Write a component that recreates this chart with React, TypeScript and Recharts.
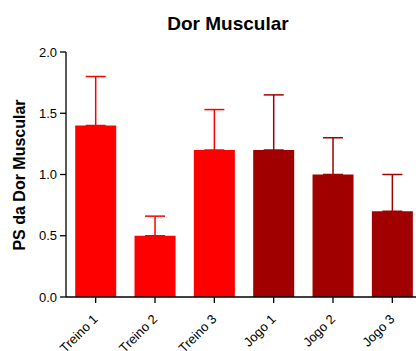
import React from 'react';
import { BarChart, Bar, XAxis, YAxis, ErrorBar, Cell } from 'recharts';

const categories = ['Treino 1', 'Treino 2', 'Treino 3', 'Jogo 1', 'Jogo 2', 'Jogo 3'];
const groups = ['Treino', 'Treino', 'Treino', 'Jogo', 'Jogo', 'Jogo'];
const means = [1.4, 0.5, 1.2, 1.2, 1.0, 0.7];
const upperErrors = [0.4, 0.16, 0.33, 0.45, 0.3, 0.3];
const yTicks = [0, 0.5, 1.0, 1.5, 2.0];

const TREINO_COLOR = '#FF0000';
const JOGO_COLOR = '#A00000';
const FONT = "Arial, 'Liberation Sans', sans-serif";

const data = categories.map((name, i) => ({
  name,
  value: means[i],
  errTreino: groups[i] === 'Treino' ? [0, upperErrors[i]] : null,
  errJogo: groups[i] === 'Jogo' ? [0, upperErrors[i]] : null,
}));

const XTick = (props: any) => {
  const { x, y, payload } = props;
  return (
    <g transform={`translate(${x + 3},${y + 17})`}>
      <text
        x={0}
        y={0}
        textAnchor="end"
        transform="rotate(-45)"
        fontFamily={FONT}
        fontSize={13}
        fill="#000"
      >
        {payload.value}
      </text>
    </g>
  );
};

export default function App() {
  return (
    <div
      style={{
        position: 'absolute',
        left: 0,
        top: 0,
        width: 416,
        height: 351,
        overflow: 'hidden',
        background: '#fff',
      }}
    >
      <div
        style={{
          position: 'absolute',
          left: 0,
          width: 456,
          top: 12,
          textAlign: 'center',
          fontFamily: FONT,
          fontWeight: 'bold',
          fontSize: 19,
          lineHeight: '24px',
          color: '#000',
        }}
      >
        Dor Muscular
      </div>
      <div
        style={{
          position: 'absolute',
          left: 20,
          top: 175,
          transform: 'translate(-50%, -50%) rotate(-90deg)',
          whiteSpace: 'nowrap',
          fontFamily: FONT,
          fontWeight: 'bold',
          fontSize: 16,
          lineHeight: '18px',
          color: '#000',
        }}
      >
        PS da Dor Muscular
      </div>
      <div style={{ position: 'absolute', left: 0, top: 0 }}>
        <BarChart
          width={440}
          height={351}
          data={data}
          margin={{ top: 52, right: 18, bottom: 0, left: 0 }}
          barCategoryGap="15.5%"
        >
          <XAxis
            dataKey="name"
            tick={<XTick />}
            tickSize={6}
            tickMargin={0}
            height={54}
            interval={0}
            axisLine={{ stroke: '#000', strokeWidth: 1.3 }}
            tickLine={{ stroke: '#000', strokeWidth: 1.3 }}
          />
          <YAxis
            domain={[0, 2]}
            ticks={yTicks}
            tickFormatter={(v: number) => v.toFixed(1)}
            width={66}
            tickSize={6}
            tickMargin={3}
            tick={{ fontFamily: FONT, fontSize: 13, fill: '#000' }}
            axisLine={{ stroke: '#000', strokeWidth: 1.3 }}
            tickLine={{ stroke: '#000', strokeWidth: 1.3 }}
          />
          <Bar dataKey="value" isAnimationActive={false}>
            {data.map((d, i) => (
              <Cell key={d.name} fill={groups[i] === 'Treino' ? TREINO_COLOR : JOGO_COLOR} />
            ))}
            <ErrorBar
              dataKey="errTreino"
              direction="y"
              width={10}
              stroke={TREINO_COLOR}
              strokeWidth={1.5}
              isAnimationActive={false}
            />
            <ErrorBar
              dataKey="errJogo"
              direction="y"
              width={10}
              stroke={JOGO_COLOR}
              strokeWidth={1.5}
              isAnimationActive={false}
            />
          </Bar>
        </BarChart>
      </div>
    </div>
  );
}
